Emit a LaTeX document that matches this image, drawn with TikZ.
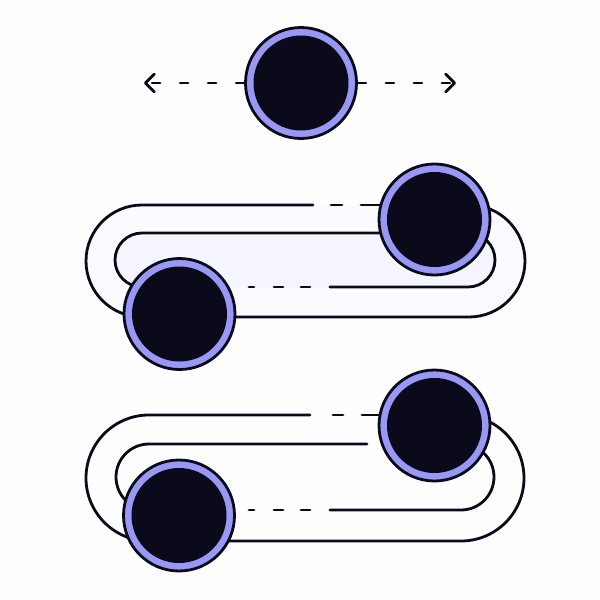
\documentclass[tikz,border=0pt]{standalone}
\usetikzlibrary{arrows.meta}
\definecolor{ink}{RGB}{10,10,26}
\definecolor{ring}{RGB}{153,153,245}
\definecolor{paper}{RGB}{254,254,255}
\definecolor{haze}{RGB}{250,250,255}
\definecolor{lilac}{RGB}{245,245,253}

\begin{document}
\begin{tikzpicture}
  [x=1pt, y=-1pt,
    ball/.style={
      circle, draw=ink, fill=ring, line width=2.8pt, minimum size=111pt, inner sep=0pt,
      path picture={\fill[ink] (path picture bounding box.center) circle (47.5pt);}
    },
    track/.style={draw=ink, line width=2.8pt, line cap=round},
    spaced/.style={track, dash pattern=on 5pt off 20pt on 9pt off 18pt on 9pt off 20pt on 200pt},
    gapline/.style={track, dash pattern=on 8pt off 20pt},
    >={Straight Barb[length=9pt, width=18pt, line cap=round, line join=round]},
  ]
  \fill[paper] (0,0) rectangle (600,600);
  \useasboundingbox (0,0) rectangle (600,600);

  % Upper loop
  \fill[haze, rounded corners=56pt] (86,205) rectangle (525,317);
  \fill[lilac, rounded corners=27pt] (115,233) rectangle (495,287);
  \draw[track, rounded corners=56pt]
    (313,205) -- (86,205) -- (86,317) -- (525,317) -- (525,205) -- (450,205);
  \draw[track, dash pattern=on 11pt off 19pt on 40pt] (331,205) -- (385,205);
  \draw[track, rounded corners=27pt]
    (200,287) -- (115,287) -- (115,233) -- (495,233) -- (495,287) -- (330,287);
  \draw[spaced] (249,287) -- (340,287);

  % Lower loop
  \draw[track, rounded corners=63pt]
    (310,415) -- (86,415) -- (86,541) -- (524,541) -- (524,415) -- (440,415);
  \draw[track, dash pattern=on 10pt off 19pt on 40pt] (333,415) -- (385,415);
  \draw[track, rounded corners=33pt]
    (367,444) -- (116,444) -- (116,510) -- (200,510);
  \draw[track, rounded corners=33pt]
    (330,510) -- (494,510) -- (494,444) -- (440,444);
  \draw[spaced] (249,510) -- (340,510);

  % Balls
  \node[ball] (spin) at (301,83) {};
  \node[ball] (upA) at (434.5,219.5) {};
  \node[ball] (lowA) at (179.5,314) {};
  \node[ball] (upB) at (434.5,425.5) {};
  \node[ball] (lowB) at (179,515.5) {};

  % Sideways arrows
  \coordinate (west tip) at (144,83);
  \coordinate (east tip) at (456,83);
  \draw[gapline, ->] (spin) -- (west tip);
  \draw[gapline, ->] (spin) -- (east tip);
\end{tikzpicture}
\end{document}
